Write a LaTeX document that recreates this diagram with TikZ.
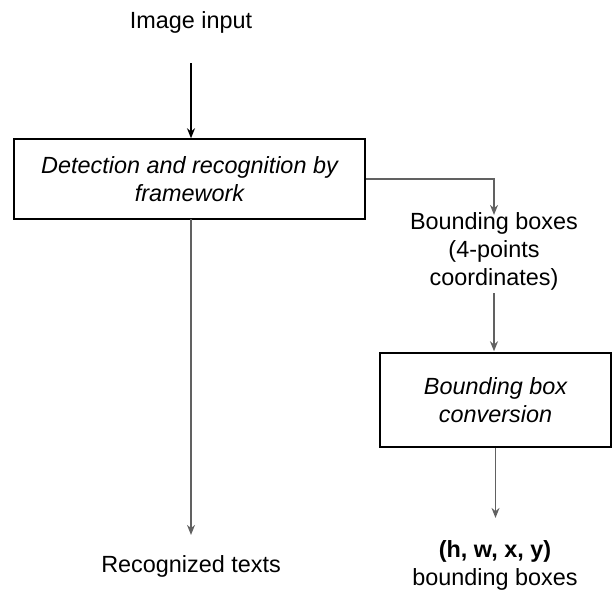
\documentclass[tikz,border=0pt]{standalone}
\usepackage{fontspec}
\setmainfont{Liberation Sans}
\usetikzlibrary{arrows.meta}
\begin{document}
\begin{tikzpicture}[x=1pt,y=-1pt,
  every node/.style={font=\fontsize{23.4}{28}\selectfont, align=center, inner sep=0pt},
  procbox/.style={draw=black, line width=1.5pt, fill=white},
  blk/.style={draw=black, line width=1.5pt, -{Stealth[length=10pt,width=8pt]}},
  gry/.style={draw=black!62, line width=1.5pt, -{Stealth[length=10pt,width=8pt]}}
]
\useasboundingbox (0,0) rectangle (612,590);
\node (in) at (191,22) {Image input};
\node[procbox, minimum width=351pt, minimum height=80pt] (det) at (189.5,179)
  {\itshape Detection and recognition by\\\itshape framework};
\node (bb) at (494,251) {Bounding boxes\\(4-points\\coordinates)};
\node[procbox, minimum width=231pt, minimum height=94pt] (conv) at (495.5,400)
  {\itshape Bounding box\\\itshape conversion};
\node (rt) at (191,566) {Recognized texts};
\node (hw) at (495,565) {\bfseries (h, w, x, y)\\bounding boxes};
\coordinate (detsplit) at (191,219);
\draw[blk, shorten <=30pt] (in.south) -- (in.south |- det.north);
\draw[gry] (det.east) -| ([yshift=-3pt]bb.north);
\draw[gry, shorten <=3pt, shorten >=1pt] (bb.south) -- (bb.south |- conv.north);
\draw[gry, shorten >=22pt] (conv.south) -- (conv.south |- hw.north);
\draw[gry, shorten >=20pt] (detsplit) -- (detsplit |- rt.north);
\end{tikzpicture}
\end{document}
